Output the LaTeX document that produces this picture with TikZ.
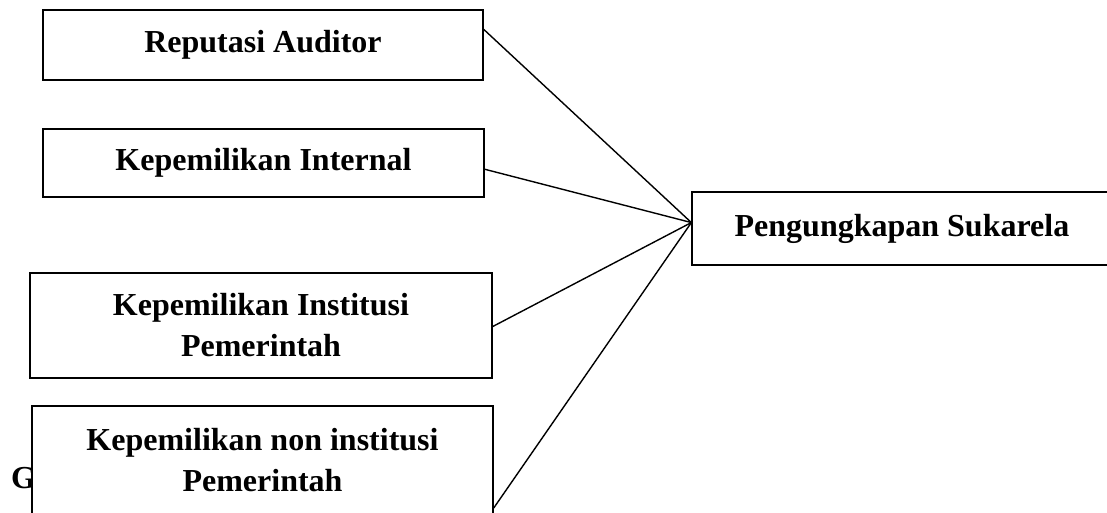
\documentclass[tikz,border=0pt]{standalone}
\usepackage{fontspec}
\setmainfont{Liberation Serif}
\usetikzlibrary{calc}
\begin{document}
\begin{tikzpicture}[x=1pt,y=-1pt,
  box/.style={draw=black, line width=1.3pt, fill=white, inner sep=0pt, align=center,
    font=\fontsize{32}{41}\selectfont\bfseries},
  conn/.style={draw=black, line width=1.4pt}]
\useasboundingbox (0,0) rectangle (1107,513);
\clip (0,0) rectangle (1107,513);
\fill[white] (0,0) rectangle (1107,513);
% caption letter partially hidden by box 4
\node[anchor=base west, inner sep=0pt, font=\fontsize{32}{41}\selectfont\bfseries] (g) at (11,488) {G};
% boxes
\node[box, minimum width=440pt, minimum height=70pt] (b1) at (263,45) {Reputasi Auditor};
\node[box, minimum width=441pt, minimum height=68pt] (b2) at (263.5,163) {Kepemilikan Internal};
\node[box, minimum width=462pt, minimum height=105pt] (b3) at (261,325.5) {Kepemilikan Institusi\\Pemerintah};
\node[box, minimum width=461pt, minimum height=108pt] (b4) at (262.5,460) {Kepemilikan non institusi\\Pemerintah};
\node[box, minimum width=420pt, minimum height=73pt] (t) at (902,228.5) {Pengungkapan Sukarela};
% connector points
\coordinate (c)  at ($(t.north west)!0.42!(t.south west)$);
\coordinate (s1) at ($(b1.north east)!0.28!(b1.south east)$);
\coordinate (s2) at ($(b2.north east)!0.59!(b2.south east)$);
\coordinate (s3) at ($(b3.north east)!0.51!(b3.south east)$);
\coordinate (s4) at ($(b4.north east)!0.94!(b4.south east)$);
\draw[conn] (s1) -- (c);
\draw[conn] (s2) -- (c);
\draw[conn] (s3) -- (c);
\draw[conn] (s4) -- (c);
\end{tikzpicture}
\end{document}
